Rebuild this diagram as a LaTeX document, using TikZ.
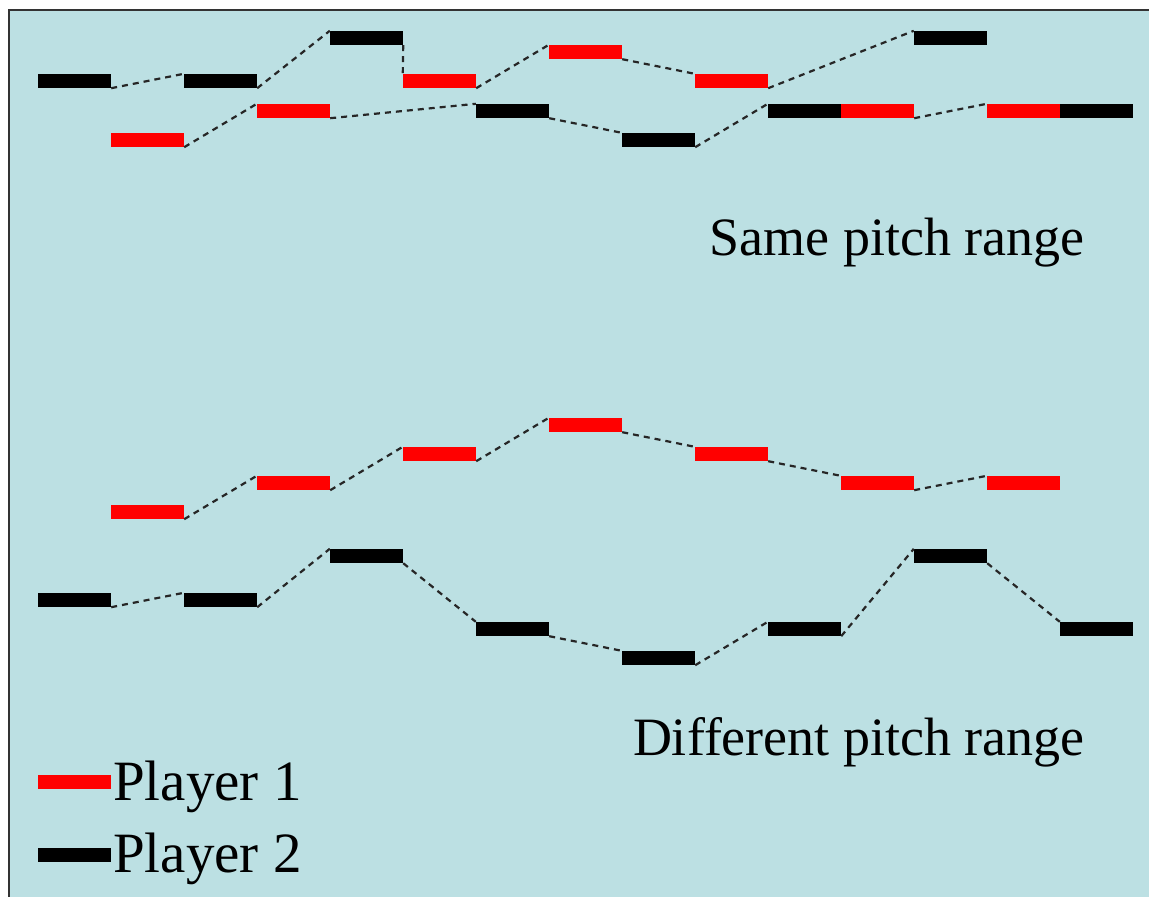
\documentclass[tikz,border=0pt]{standalone}
\usepackage{fontspec}
\setmainfont{Liberation Serif}
\usetikzlibrary{positioning}
\definecolor{panelbg}{RGB}{188,224,227}
\tikzset{
    rednote/.style={
        rectangle,
        fill=red, % player 1
        minimum width=73pt,
        minimum height=14pt,
        inner sep=0
    },
    blacknote/.style={
        rectangle,
        fill=black, % player 2
        minimum width=73pt,
        minimum height=14pt,
        inner sep=0
    },
    melody/.style={
        draw=black!85,
        line width=2.2pt,
        dash pattern=on 6pt off 5pt
    },
    caption/.style={
        font=\fontsize{54}{60}\selectfont,
        inner sep=0
    },
    keylabel/.style={
        font=\fontsize{57}{62}\selectfont,
        inner sep=0
    }
}

\begin{document}
\begin{tikzpicture}[x=1pt, y=-1pt]
    \useasboundingbox (0,0) rectangle (1149,897);
    \fill[white] (0,0) rectangle (1149,897);
    \fill[panelbg] (9,10) rectangle (1160,910);
    \draw[black!80, line width=2pt] (9,910) -- (9,10) -- (1160,10);

    % same pitch range
    \foreach \n/\x/\y in {1/74.5/81, 2/220.5/81, 3/366.5/38, 4/512.5/111,
                          5/658.5/140, 6/804.5/111, 7/950.5/38, 8/1096.5/111}
        \node[blacknote] (sb\n) at (\x,\y) {};
    \foreach \n/\x/\y in {1/147.5/140, 2/293.5/111, 3/439.5/81, 4/585.5/52,
                          5/731.5/81, 6/877.5/111, 7/1023.5/111}
        \node[rednote] (sr\n) at (\x,\y) {};
    \foreach \a/\b in {sb1/sb2, sr1/sr2, sb2/sb3, sr2/sb4, sb3/sr3, sr3/sr4,
                       sr4/sr5, sb4/sb5, sb5/sb6, sr5/sb7, sr6/sr7}
        \draw[melody] (\a.south east) -- (\b.north west);
    \node[caption, anchor=base east] (same) at (1085,255) {Same pitch range};

    % different pitch range
    \foreach \n/\x/\y in {1/147.5/512, 2/293.5/483, 3/439.5/454, 4/585.5/425,
                          5/731.5/454, 6/877.5/483, 7/1023.5/483}
        \node[rednote] (dr\n) at (\x,\y) {};
    \foreach \n/\x/\y in {1/74.5/600, 2/220.5/600, 3/366.5/556, 4/512.5/629,
                          5/658.5/658, 6/804.5/629, 7/950.5/556, 8/1096.5/629}
        \node[blacknote] (db\n) at (\x,\y) {};
    \foreach \a/\b in {dr1/dr2, dr2/dr3, dr3/dr4, dr4/dr5, dr5/dr6, dr6/dr7,
                       db1/db2, db2/db3, db3/db4, db4/db5, db5/db6, db6/db7, db7/db8}
        \draw[melody] (\a.south east) -- (\b.north west);
    \node[caption, anchor=base east] (diff) at (1085,755) {Different pitch range};

    % legend
    \node[rednote] (key1) at (74.5,782) {};
    \node[blacknote] (key2) at (74.5,855) {};
    \node[keylabel, anchor=base west] (lab1) at (113,800) {Player 1};
    \node[keylabel, anchor=base west] (lab2) at (113,872) {Player 2};
\end{tikzpicture}
\end{document}
